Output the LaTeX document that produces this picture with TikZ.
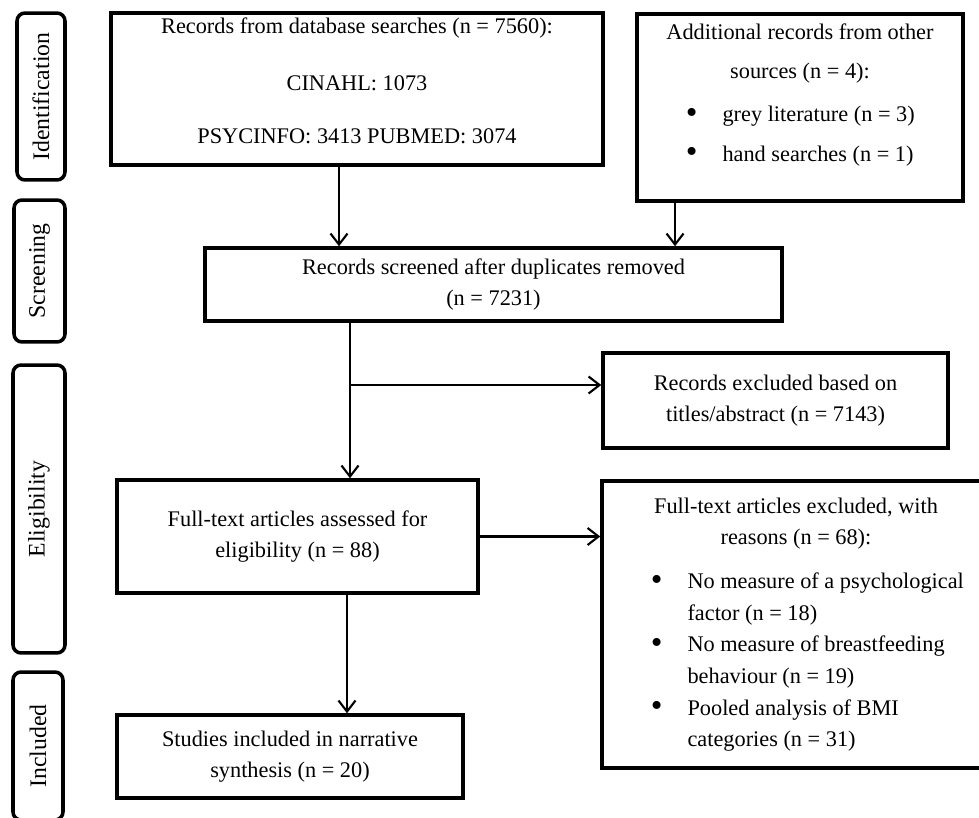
\documentclass[tikz,border=0pt]{standalone}
\usepackage{fontspec}
\setmainfont{Liberation Serif}
\usepackage{enumitem}
\usepackage{tikz}
\usetikzlibrary{positioning}
\usetikzlibrary{arrows.meta}

\setlist[itemize]{leftmargin=1.43cm,labelsep=0.5cm,itemsep=0pt,parsep=0pt,partopsep=0pt,
  label=\raisebox{-0.15ex}{\fontsize{19}{19}\selectfont\textbullet}}

\begin{document}
\begin{tikzpicture}[
	x=0.02cm, y=-0.02cm,
	thick,
	font=\fontsize{12.7}{18}\selectfont
]
\tikzset{
    stagebox/.style = {draw=black, line width=2pt, rounded corners=0.16cm, rotate=90, inner sep=0pt,
		  font=\fontsize{13.5}{16}\selectfont},
		flowbox/.style = {draw=black, line width=2pt, align=center, inner sep=0pt},
		listbox/.style = {draw=black, line width=2pt, inner xsep=0.28cm, inner ysep=0pt,
		  execute at begin node={\spaceskip=0pt \xspaceskip=0pt}},
		arr/.style = {-{Straight Barb[length=0.22cm,width=0.34cm]}, line width=1.2pt}
}
\useasboundingbox (0,0) rectangle (979,817);

% stages on the left
\node[stagebox, minimum width=3.34cm, minimum height=0.96cm] (ident) at (41,96.5) {Identification};
\node[stagebox, minimum width=2.84cm, minimum height=1.02cm] (screen) at (39.5,271) {Screening};
\node[stagebox, minimum width=5.76cm, minimum height=1.04cm] (elig) at (39,509) {Eligibility};
\node[stagebox, minimum width=2.96cm, minimum height=1.00cm] (incl) at (38,746) {Included};

% boxes of the flow
\node[flowbox, minimum width=9.84cm, minimum height=3.04cm] (A) at (357,89)
  {Records from database searches (n = 7560):\\[14.5pt] CINAHL: 1073\\[12pt] PSYCINFO: 3413 PUBMED: 3074\rule[-0.33cm]{0pt}{0.1pt}};
\node[listbox, text width=5.96cm, minimum height=3.74cm, font=\fontsize{12.7}{22.5}\selectfont] (B) at (800,107.5)
  {{\centering Additional records from other\\ sources (n = 4):\par}
   \begin{itemize}[topsep=2pt]
   \item grey literature (n = 3)
   \item hand searches (n = 1)
   \end{itemize}
   \par\nointerlineskip\vbox to 0.44cm{}};
\node[flowbox, minimum width=11.54cm, minimum height=1.46cm] (C) at (493.5,284.5)
  {Records screened after duplicates removed\\ (n = 7231)};
\node[flowbox, minimum width=6.9cm, minimum height=1.9cm] (D) at (775.5,400.5)
  {Records excluded based on\\ titles/abstract (n = 7143)};
\node[flowbox, minimum width=7.22cm, minimum height=2.26cm] (F) at (297.5,536.5)
  {Full-text articles assessed for\\ eligibility (n = 88)};
\node[listbox, text width=7.2cm, minimum height=5.74cm] (E) at (796,624.5)
  {{\centering Full-text articles excluded, with\\ reasons (n = 68):\par}
   \begin{itemize}[topsep=7pt]
   \item No measure of a psychological\newline factor (n = 18)
   \item No measure of breastfeeding\newline behaviour (n = 19)
   \item Pooled analysis of BMI\newline categories (n = 31)
   \end{itemize}};
\node[flowbox, minimum width=6.92cm, minimum height=1.66cm] (G) at (290,756.5)
  {Studies included in narrative\\ synthesis (n = 20)};

% connectors
\coordinate (aOut) at ([xshift=-0.36cm]A.south);
\coordinate (bOut) at ([xshift=-2.5cm]B.south);
\coordinate (trunk) at ([xshift=1.05cm]F.north);
\coordinate (dIn) at ([yshift=0.31cm]D.west);
\coordinate (fOut) at ([xshift=0.99cm]F.south);
\draw[arr] (aOut) -- (aOut |- C.north);
\draw[arr] (bOut) -- (bOut |- C.north);
\draw[arr] (trunk |- C.south) -- (trunk);
\draw[arr] (trunk |- dIn) -- (dIn);
\draw[arr] (F.east) -- (F.east -| E.west);
\draw[arr] (fOut) -- (fOut |- G.north);
\end{tikzpicture}
\end{document}
